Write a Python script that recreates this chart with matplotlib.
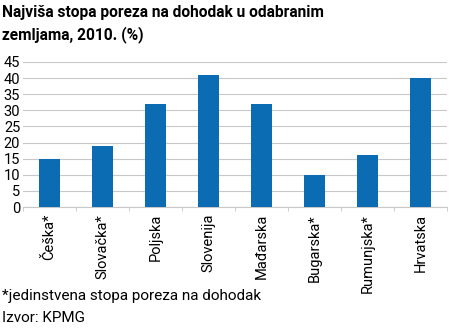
import matplotlib
matplotlib.use("Agg")
import matplotlib.pyplot as plt
import numpy as np

countries = ["Češka*", "Slovačka*", "Poljska", "Slovenija", "Mađarska",
             "Bugarska*", "Rumunjska*", "Hrvatska"]
rates = [15, 19, 32, 41, 32, 10, 16, 40]
yticks = list(range(0, 50, 5))

plt.rcParams['font.family'] = ['Roboto', 'DejaVu Sans']

fig = plt.figure(figsize=(4.5, 3.35), dpi=100)
ax = fig.add_axes([0.051, 0.382, 0.942, 0.433])

x = np.arange(len(countries))
ax.bar(x, rates, width=0.4, color="#0b6bb3", zorder=3)

ax.set_xlim(-0.5, len(countries) - 0.5)
ax.set_ylim(0, 45)
ax.set_yticks(yticks)
ax.set_yticklabels([str(t) for t in yticks], fontsize=10.5)
ax.tick_params(axis='y', length=0, pad=2)
ax.yaxis.grid(True, color="#c8c8c8", linewidth=0.8, zorder=0)

ax.set_xticks(x)
ax.set_xticklabels(countries, rotation=90, fontsize=10.5, va='top')
ax.tick_params(axis='x', length=0, pad=5)
ax.set_xticks(np.arange(len(countries) + 1) - 0.5, minor=True)
ax.tick_params(axis='x', which='minor', length=3, color="#c8c8c8")

for s in ["top", "right", "left"]:
    ax.spines[s].set_visible(False)
ax.spines["bottom"].set_color("#c8c8c8")

fig.text(0.005, 0.985, "Najviša stopa poreza na dohodak u odabranim\nzemljama, 2010. (%)",
         fontsize=11.2, fontweight='bold', va='top', ha='left', linespacing=1.45)
fig.text(0.005, 0.095, "*jedinstvena stopa poreza na dohodak", fontsize=11, va='bottom')
fig.text(0.005, 0.03, "Izvor: KPMG", fontsize=11, va='bottom')

fig.savefig("out.png", dpi=100)
